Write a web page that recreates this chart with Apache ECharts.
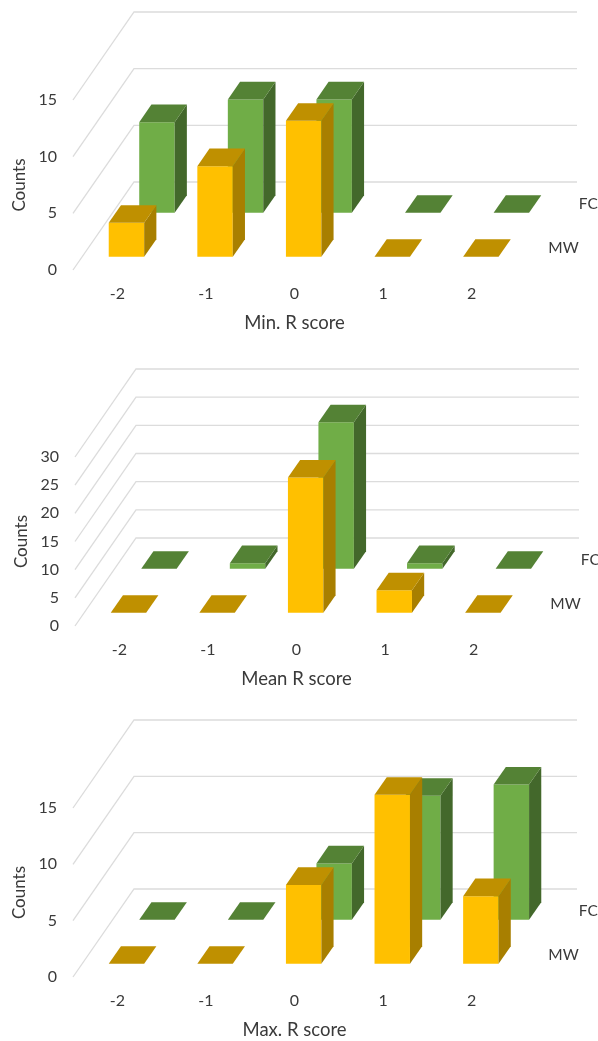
<!DOCTYPE html>
<html>
<head>
<meta charset="utf-8">
<style>
  html, body { margin: 0; padding: 0; background: #fff; }
  #chart { width: 598px; height: 1041px; }
</style>
<script src="https://cdn.jsdelivr.net/npm/echarts@6/dist/echarts.min.js"></script>
</head>
<body>
<div id="chart"></div>
<script>
  const categories = ['-2', '-1', '0', '1', '2'];
  const seriesNames = ['FC', 'MW'];

  const minFC = [8, 10, 10, 0, 0];
  const minMW = [3, 8, 12, 0, 0];
  const meanFC = [0, 1, 26, 1, 0];
  const meanMW = [0, 0, 24, 4, 0];
  const maxFC = [0, 0, 5, 11, 12];
  const maxMW = [0, 0, 7, 15, 6];

  const minTicks = [0, 5, 10, 15];
  const meanTicks = [0, 5, 10, 15, 20, 25, 30];
  const maxTicks = [0, 5, 10, 15];

  const panels = [
    { title: 'Min. R score', fc: minFC, mw: minMW, ticks: minTicks, left: 73, top: 100, height: 170, width: 443 },
    { title: 'Mean R score', fc: meanFC, mw: meanMW, ticks: meanTicks, left: 75, top: 457, height: 169, width: 443 },
    { title: 'Max. R score', fc: maxFC, mw: maxMW, ticks: maxTicks, left: 73, top: 808, height: 169, width: 443 }
  ];

  // oblique projection of the depth axis
  const depthX = 61;
  const depthY = -88;
  const barShare = 0.4;
  const barDepth = 0.2;
  const slotStart = { MW: 0, FC: 0.5 };
  const faceColors = {
    FC: { front: '#70AD47', side: '#43682B', top: '#548235' },
    MW: { front: '#FFC000', side: '#A87F00', top: '#BF9000' }
  };
  const textColor = '#3a3a3a';
  const fontName = 'Lato';

  function project(p, depth) {
    return [p[0] + depthX * depth, p[1] + depthY * depth];
  }

  function poly(points, color) {
    return { type: 'polygon', shape: { points: points }, style: { fill: color } };
  }

  function renderBar(params, api) {
    const name = params.seriesName;
    const colors = faceColors[name];
    const band = api.size([1, 0])[0];
    const w = band * barShare;
    const d0 = slotStart[name] + 0.15;
    const d1 = d0 + barDepth;
    const base = api.coord([api.value(0), 0]);
    const peak = api.coord([api.value(0), api.value(1)]);
    const xl = base[0] - w / 2;
    const xr = base[0] + w / 2;

    const children = [];
    if (peak[1] < base[1]) {
      children.push(poly([
        project([xl, peak[1]], d0), project([xr, peak[1]], d0),
        project([xr, base[1]], d0), project([xl, base[1]], d0)
      ], colors.front));
      children.push(poly([
        project([xr, peak[1]], d0), project([xr, peak[1]], d1),
        project([xr, base[1]], d1), project([xr, base[1]], d0)
      ], colors.side));
    }
    children.push(poly([
      project([xl, peak[1]], d0), project([xr, peak[1]], d0),
      project([xr, peak[1]], d1), project([xl, peak[1]], d1)
    ], colors.top));

    // depth axis label sits once per series, past the last category
    if (params.dataIndex === categories.length - 1) {
      const edge = project([base[0] + band / 2, base[1]], slotStart[name] + 0.25);
      children.push({
        type: 'text',
        style: {
          text: name, x: edge[0] + 17, y: edge[1],
          align: 'left', verticalAlign: 'middle',
          fill: textColor, font: '15.5px ' + fontName
        }
      });
    }
    return { type: 'group', children: children };
  }

  function renderWall(params, api) {
    const band = api.size([1, 0])[0];
    const p = api.coord([0, api.value(0)]);
    const start = [p[0] - band / 2, p[1]];
    const corner = project(start, 1);
    const end = [corner[0] + band * categories.length, corner[1]];
    return {
      type: 'polyline',
      shape: { points: [start, corner, end] },
      style: { stroke: '#DCDCDC', lineWidth: 1.3, fill: null }
    };
  }

  const grid = [];
  const xAxis = [];
  const yAxis = [];
  const series = [];

  panels.forEach(function (panel, i) {
    grid.push({
      left: panel.left, top: panel.top, width: panel.width, height: panel.height,
      outerBoundsMode: 'none'
    });
    xAxis.push({
      gridIndex: i,
      type: 'category',
      data: categories,
      name: panel.title,
      nameLocation: 'middle',
      nameGap: 44,
      nameTextStyle: { color: textColor, fontFamily: fontName, fontSize: 18.5 },
      axisLine: { show: false },
      axisTick: { show: false },
      axisLabel: { color: textColor, fontFamily: fontName, fontSize: 16, margin: 16 }
    });
    yAxis.push({
      gridIndex: i,
      type: 'value',
      min: 0,
      max: panel.ticks[panel.ticks.length - 1],
      interval: 5,
      name: 'Counts',
      nameLocation: 'middle',
      nameGap: 44,
      nameTextStyle: { color: textColor, fontFamily: fontName, fontSize: 17 },
      axisLine: { show: false },
      axisTick: { show: false },
      splitLine: { show: false },
      axisLabel: { color: textColor, fontFamily: fontName, fontSize: 16, margin: 16 }
    });
    series.push({
      type: 'custom',
      name: 'wall',
      xAxisIndex: i,
      yAxisIndex: i,
      clip: false,
      silent: true,
      renderItem: renderWall,
      encode: { y: 0 },
      data: panel.ticks.map(function (t) { return [t]; })
    });
    seriesNames.forEach(function (name) {
      const values = name === 'FC' ? panel.fc : panel.mw;
      series.push({
        type: 'custom',
        name: name,
        xAxisIndex: i,
        yAxisIndex: i,
        clip: false,
        renderItem: renderBar,
        encode: { x: 0, y: 1 },
        data: values.map(function (v, k) { return [k, v]; })
      });
    });
  });

  const myChart = echarts.init(document.getElementById('chart'));
  myChart.setOption({
    animation: false,
    backgroundColor: '#fff',
    grid: grid,
    xAxis: xAxis,
    yAxis: yAxis,
    series: series
  });
</script>
</body>
</html>
